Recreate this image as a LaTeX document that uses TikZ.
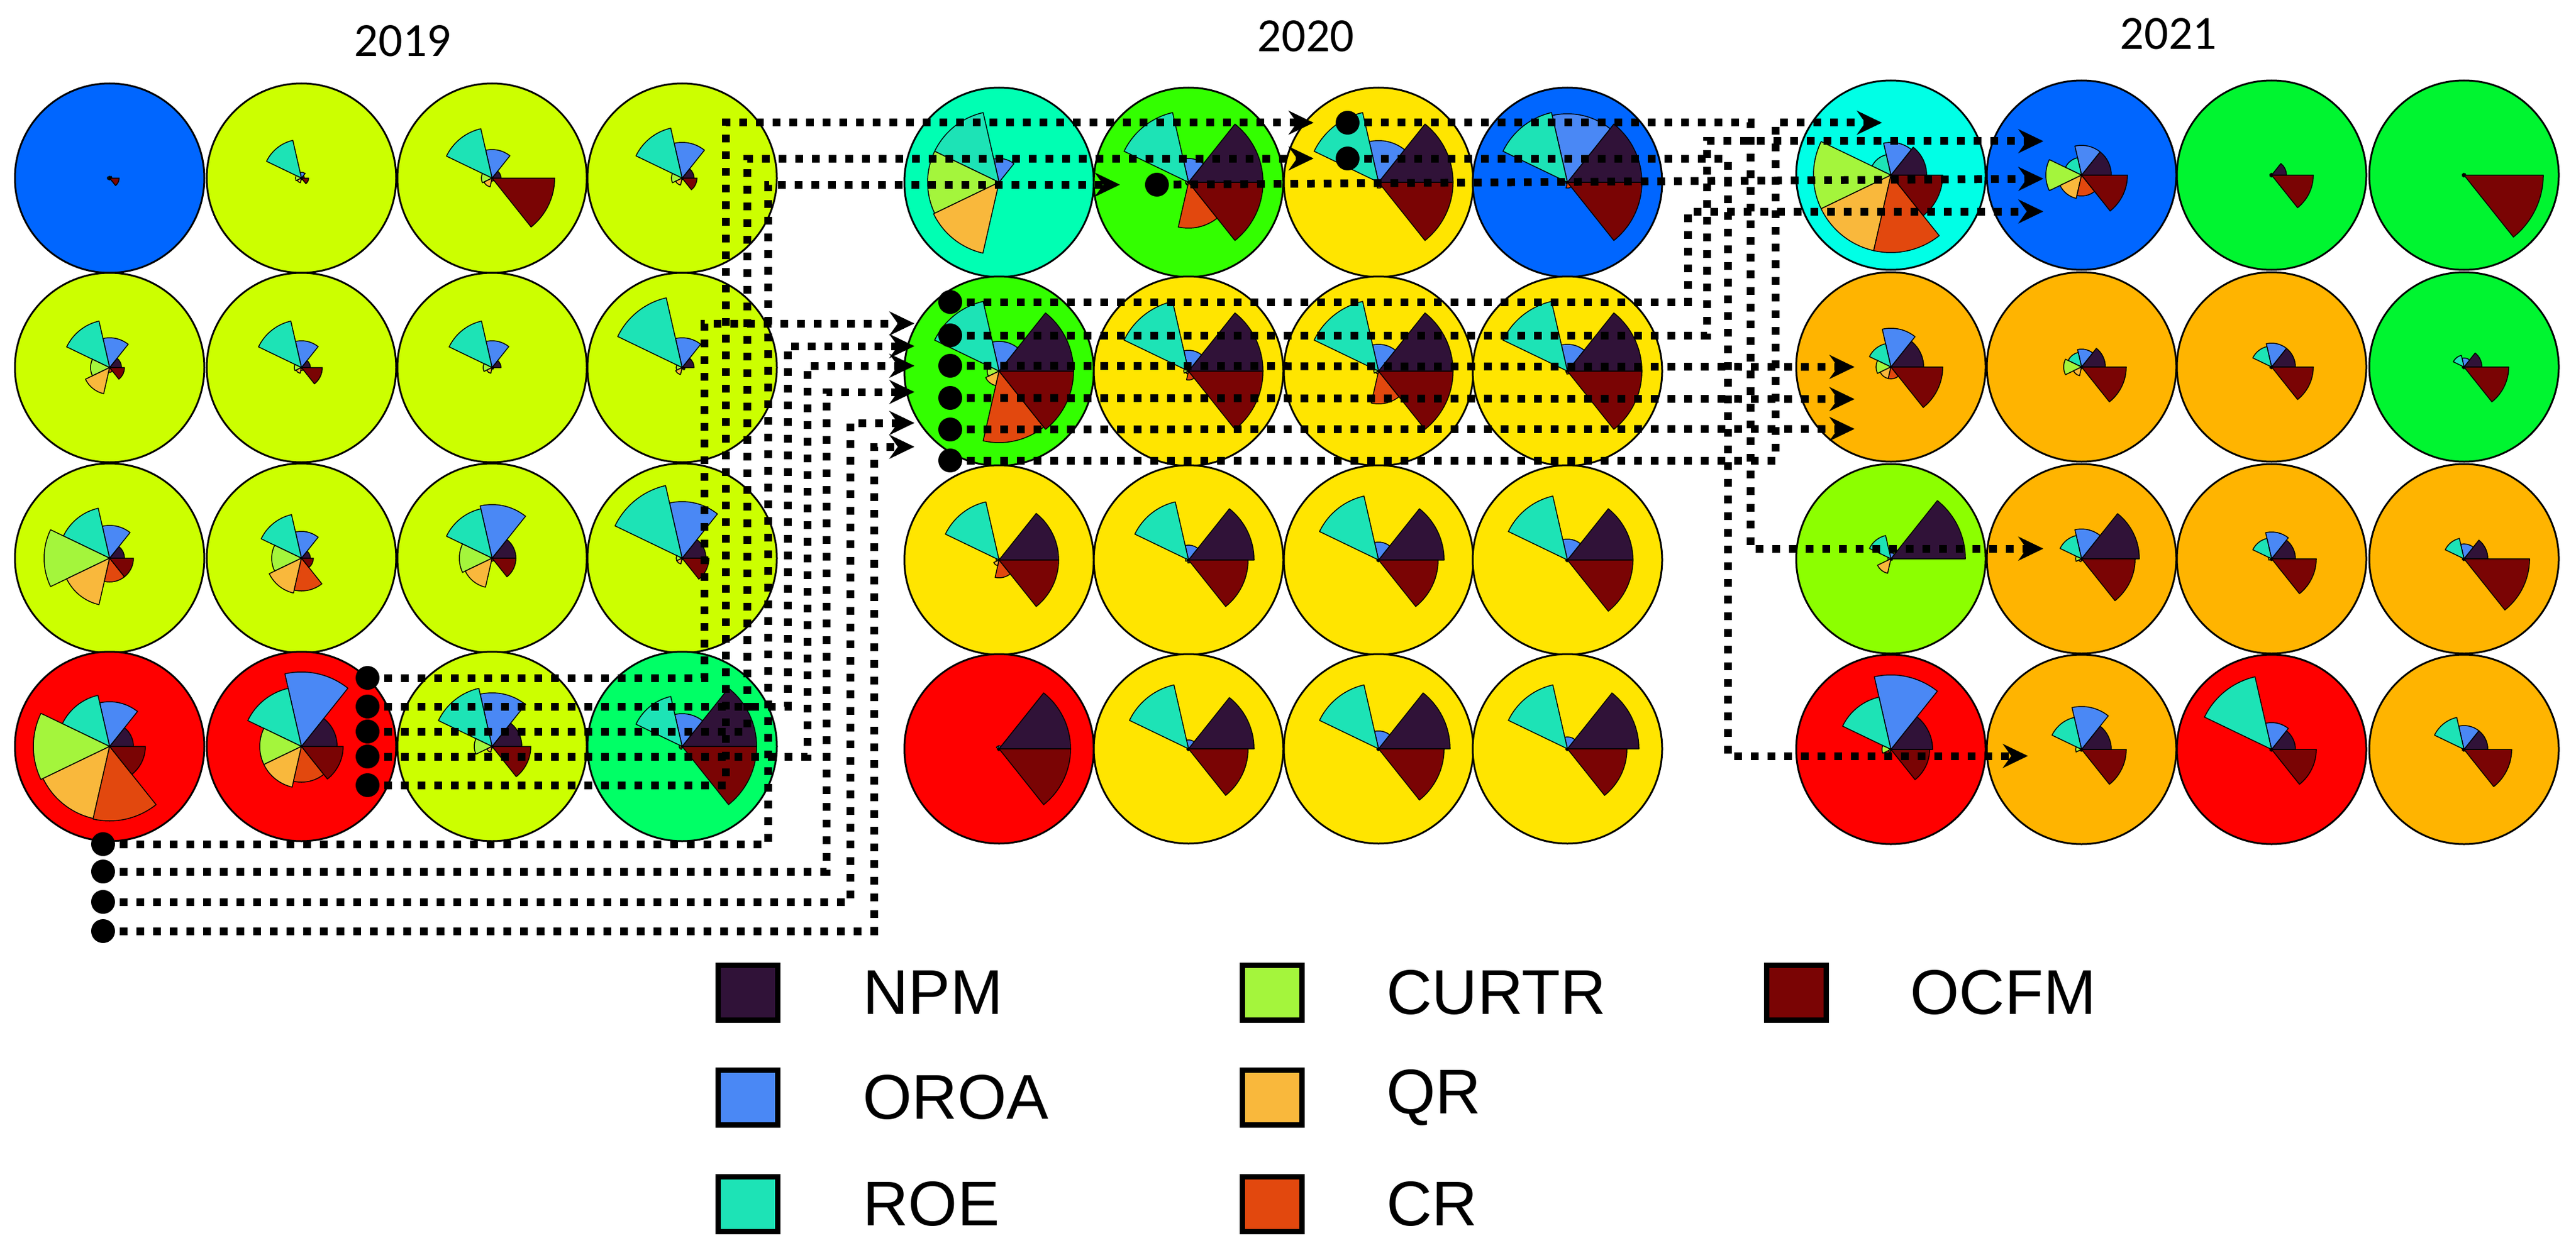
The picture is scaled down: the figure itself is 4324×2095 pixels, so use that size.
\documentclass[tikz,border=0pt]{standalone}
\usepackage{fontspec}
\setmainfont{Liberation Sans}
\newfontfamily\yearfont{Carlito}
\usetikzlibrary{arrows.meta}
\definecolor{cNPM}{HTML}{301238}
\definecolor{cOROA}{HTML}{4A88F5}
\definecolor{cROE}{HTML}{1DE3B6}
\definecolor{cCURTR}{HTML}{A4F53C}
\definecolor{cQR}{HTML}{F9B83C}
\definecolor{cCR}{HTML}{E2480E}
\definecolor{cOCFM}{HTML}{7A0404}
\definecolor{bBlue}{HTML}{0066FF}
\definecolor{bYG}{HTML}{CCFF00}
\definecolor{bRed}{HTML}{FF0000}
\definecolor{bGa}{HTML}{00FF66}
\definecolor{bAq}{HTML}{00FFB3}
\definecolor{bGb}{HTML}{33FF00}
\definecolor{bYel}{HTML}{FFE500}
\definecolor{bCy}{HTML}{00FFE6}
\definecolor{bGc}{HTML}{00F530}
\definecolor{bOr}{HTML}{FFB400}
\definecolor{bLime}{HTML}{8CFF00}
\begin{document}
\begin{tikzpicture}[x=1pt,y=1pt,
  sec/.style={draw=black,line width=1.5pt,line join=round},
  bub/.style={draw=black,line width=3pt},
  conn/.style={line width=13pt,dash pattern=on 13pt off 15pt,black},
  arr/.style={conn,-{Stealth[length=42pt,width=40pt,inset=14pt]}},
  dot/.style={circle,fill=black,inner sep=0pt,minimum size=40pt},
  leg/.style={draw=black,line width=9pt,minimum width=100pt,minimum height=92pt,inner sep=0pt},
  legt/.style={anchor=west,font=\fontsize{106}{110}\selectfont,inner sep=0pt},
  year/.style={font=\yearfont\fontsize{80}{84}\selectfont}]
\useasboundingbox (0,0) rectangle (4324,-2095);
\node[year] (y19) at (676,-69) {2019};
\node[year] (y20) at (2192,-61) {2020};
\node[year] (y21) at (3640,-57) {2021};
\def\R{159}
\foreach \cx/\cy/\bg/\a/\b/\c/\d/\e/\f/\g in {
 184/299/bBlue/4/3/3/4/3/3/16,
 506/299/bYG/5/10/65/10/8/3/12,
 826/299/bYG/15/48/85/18/15/5/105,
 1145/299/bYG/20/60/86/18/12/3/25,
 184/617/bYG/20/50/80/32/45/8/25,
 506/617/bYG/15/45/80/12/10/5/35,
 826/617/bYG/15/45/80/15/10/3/3,
 1145/617/bYG/20/50/120/10/12/3/5,
 184/937/bYG/25/55/86/110/80/40/40,
 506/937/bYG/15/45/75/50/60/55/20,
 826/937/bYG/40/90/85/55/50/5/40,
 1145/937/bYG/40/95/125/10/10/3/45,
 184/1253/bRed/40/75/88/128/124/125/60,
 506/1253/bRed/60/125/100/70/70/60/70,
 826/1253/bYG/50/90/100/30/10/3/65,
 1145/1253/bGa/125/55/86/5/5/3/125,
 1677/306/bAq/3/40/120/120/122/3/3,
 1995/306/bGb/125/40/120/5/5/77/125,
 2314/306/bYel/125/70/120/5/5/10/125,
 2631/306/bBlue/125/115/120/3/3/10/125,
 1677/623/bGb/125/50/120/20/25/120/125,
 1995/623/bYel/125/35/120/8/5/15/125,
 2314/623/bYel/125/45/120/8/5/55/125,
 2631/623/bYel/125/45/120/3/3/5/125,
 1677/940/bYel/100/3/100/5/10/30/100,
 1995/940/bYel/110/25/100/5/3/5/100,
 2314/940/bYel/110/30/110/3/3/3/100,
 2631/940/bYel/110/35/110/3/3/3/110,
 1677/1257/bRed/120/5/5/3/3/3/120,
 1995/1257/bYel/110/15/110/3/3/3/100,
 2314/1257/bYel/120/30/110/3/3/3/110,
 2631/1257/bYel/120/20/110/3/3/3/100,
 3174/294/bCy/60/55/35/130/130/130/87,
 3494/294/bBlue/50/50/30/60/40/35/77,
 3813/294/bGc/25/3/3/3/3/3/70,
 4136/294/bGc/3/3/3/3/3/3/133,
 3174/616/bOr/55/65/40/25/20/20/87,
 3494/616/bOr/40/30/25/30/15/3/75,
 3813/616/bOr/40/40/35/3/3/3/70,
 4136/616/bGc/30/15/20/3/3/3/75,
 3174/938/bLime/125/10/40/5/25/3/3,
 3494/938/bOr/97/50/40/10/5/3/90,
 3813/938/bOr/40/45/35/5/3/3/75,
 4136/938/bOr/40/25/35/3/3/3/110,
 3174/1258/bRed/70/125/90/15/5/3/65,
 3494/1258/bOr/50/72/55/10/3/3/75,
 3813/1258/bRed/40/45/125/3/3/3/75,
 4136/1258/bOr/40/40/55/3/3/3/80}{
 \begin{scope}[shift={(\cx,-\cy)}]
  \fill[\bg,bub] (0,0) circle (\R);
  \foreach \rr/\col [count=\k from 0] in {\a/cNPM,\b/cOROA,\c/cROE,\d/cCURTR,\e/cQR,\f/cCR,\g/cOCFM}{
    \pgfmathsetmacro\sa{\k*360/7}
    \pgfmathsetmacro\ea{(\k+1)*360/7}
    \filldraw[fill=\col,sec] (0,0) -- (\sa:\rr) arc[start angle=\sa,end angle=\ea,radius=\rr] -- cycle;
  }
 \end{scope}
}
% named endpoints: 2019 dots
\coordinate (a1) at (617,-1138);
\coordinate (a2) at (617,-1186);
\coordinate (a3) at (617,-1228);
\coordinate (a4) at (617,-1270);
\coordinate (a5) at (617,-1318);
\coordinate (b1) at (173,-1417);
\coordinate (b2) at (173,-1463);
\coordinate (b3) at (173,-1514);
\coordinate (b4) at (173,-1563);
% arrows into 2020
\coordinate (p1) at (2205,-206);
\coordinate (p2) at (2205,-266);
\coordinate (p3) at (1880,-310);
\coordinate (q1) at (1535,-543);
\coordinate (q2) at (1535,-581);
\coordinate (q3) at (1535,-614);
\coordinate (q4) at (1535,-658);
\coordinate (q5) at (1535,-710);
\coordinate (q6) at (1535,-750);
% 2020 dots
\coordinate (s1) at (2262,-206);
\coordinate (s2) at (2262,-266);
\coordinate (s3) at (1942,-310);
\coordinate (s4) at (1595,-507);
\coordinate (s5) at (1595,-563);
\coordinate (s6) at (1595,-614);
\coordinate (s7) at (1595,-668);
\coordinate (s8) at (1595,-721);
\coordinate (s9) at (1595,-773);
% arrows into 2021
\coordinate (t1) at (3159,-206);
\coordinate (t2) at (3430,-237);
\coordinate (t3) at (3430,-300);
\coordinate (t4) at (3430,-355);
\coordinate (t5) at (3113,-616);
\coordinate (t6) at (3113,-670);
\coordinate (t7) at (3113,-720);
\coordinate (t8) at (3430,-921);
\coordinate (t9) at (3404,-1269);
% 2019 -> 2020
\draw[arr] (a1) -| (1182,-543) -- (q1);
\draw[arr] (a2) -| (1322,-581) -- (q2);
\draw[arr] (a3) -| (1254,-266) -- (p2);
\draw[arr] (a4) -| (1355,-614) -- (q3);
\draw[arr] (a5) -| (1218,-206) -- (p1);
\draw[arr] (b1) -| (1289,-310) -- (p3);
\draw[arr] (b2) -| (1387,-658) -- (q4);
\draw[arr] (b3) -| (1427,-710) -- (q5);
\draw[arr] (b4) -| (1467,-750) -- (q6);
% 2020 -> 2021
\draw[arr] (s1) -| (2938,-921) -- (t8);
\draw[arr] (s2) -| (2900,-1269) -- (t9);
\draw[arr] (s3) -- (t3);
\draw[arr] (s4) -| (2833,-355) -- (t4);
\draw[arr] (s5) -| (2865,-237) -- (t2);
\draw[arr] (s6) -- (t5);
\draw[arr] (s7) -- (t6);
\draw[arr] (s8) -- (t7);
\draw[arr] (s9) -| (2980,-206) -- (t1);
% dots
\foreach \p in {a1,a2,a3,a4,a5,b1,b2,b3,b4,s1,s2,s3,s4,s5,s6,s7,s8,s9}
  \node[dot] (dot-\p) at (\p) {};
% legend
\node[leg,fill=cNPM] (kNPM) at (1255,-1666) {};
\node[legt] (lNPM) at (1448,-1666) {NPM};
\node[leg,fill=cOROA] (kOROA) at (1255,-1842) {};
\node[legt] (lOROA) at (1448,-1842) {OROA};
\node[leg,fill=cROE] (kROE) at (1255,-2021) {};
\node[legt] (lROE) at (1448,-2021) {ROE};
\node[leg,fill=cCURTR] (kCURTR) at (2135,-1666) {};
\node[legt] (lCURTR) at (2327,-1666) {CURTR};
\node[leg,fill=cQR] (kQR) at (2135,-1842) {};
\node[legt] (lQR) at (2327,-1842) {QR};
\node[leg,fill=cCR] (kCR) at (2135,-2021) {};
\node[legt] (lCR) at (2327,-2021) {CR};
\node[leg,fill=cOCFM] (kOCFM) at (3015,-1666) {};
\node[legt] (lOCFM) at (3206,-1666) {OCFM};
\end{tikzpicture}
\end{document}
